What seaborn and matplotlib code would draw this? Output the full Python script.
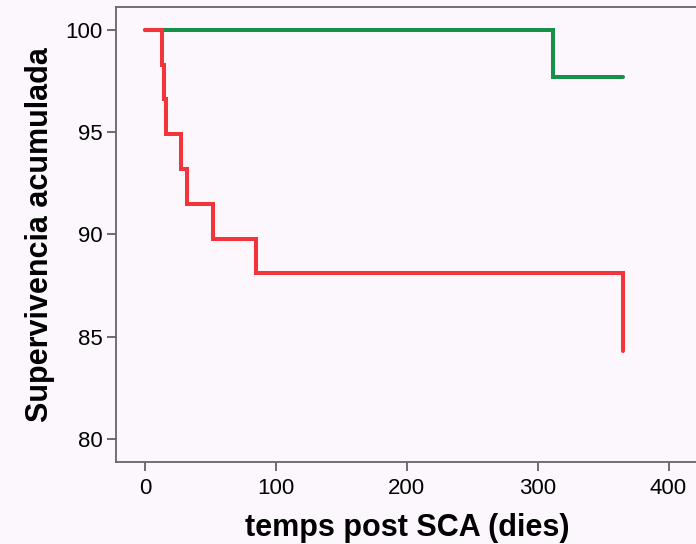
import matplotlib
matplotlib.use("Agg")
import matplotlib.pyplot as plt
import seaborn as sns
import pandas as pd

# Data (Kaplan-Meier steps)
red_days = [0, 12.6, 14.5, 16, 27.5, 32, 52, 85, 365]
red_surv = [100, 98.3, 96.6, 94.9, 93.2, 91.5, 89.8, 88.1, 84.3]
green_days = [0, 312, 365]
green_surv = [100, 97.7, 97.7]
x_ticks = [0, 100, 200, 300, 400]
y_ticks = [80, 85, 90, 95, 100]
x_label = "temps post SCA (dies)"
y_label = "Supervivencia acumulada"

bg = "#FBF7FC"
sns.set_theme(style="white")
plt.rcParams["font.family"] = ["Liberation Sans", "DejaVu Sans"]

fig = plt.figure(figsize=(6.96, 5.44), dpi=100, facecolor=bg)
ax = fig.add_axes([116/696, 82/544, 1 - 116/696, (462-7)/544])
ax.set_facecolor(bg)

green = pd.DataFrame({"t": green_days, "s": green_surv})
red = pd.DataFrame({"t": red_days, "s": red_surv})

sns.lineplot(data=green, x="t", y="s", ax=ax, estimator=None, sort=False,
             drawstyle="steps-post", color="#17914A", linewidth=2.9,
             solid_capstyle="round", solid_joinstyle="miter")
sns.lineplot(data=red, x="t", y="s", ax=ax, estimator=None, sort=False,
             drawstyle="steps-post", color="#F2343C", linewidth=2.9,
             solid_capstyle="round", solid_joinstyle="miter")

ax.set_xlim(-22.2, 421)
ax.set_ylim(78.88, 101.12)
ax.set_xticks(x_ticks)
ax.set_yticks(y_ticks)
ax.tick_params(axis="both", which="major", direction="out", length=6.5, width=1.2,
               color="#555555", labelsize=16, labelcolor="black",
               bottom=True, left=True)
ax.tick_params(axis="y", pad=3)
ax.tick_params(axis="x", pad=5)
for side in ["left", "bottom", "top"]:
    ax.spines[side].set_color("#666666")
    ax.spines[side].set_linewidth(1.3)
ax.spines["right"].set_visible(False)

ax.set_xlabel(x_label, fontsize=22, fontweight="bold", color="black")
ax.set_ylabel(y_label, fontsize=22, fontweight="bold", color="black")
ax.xaxis.set_label_coords((407 - 116) / 580, -(528 - 462) / 455)
ax.yaxis.set_label_coords(-(116 - 40) / 580, (462 - 235) / 455)
ax.yaxis.label.set_va("center")
ax.xaxis.label.set_va("center")

fig.savefig("out.png", dpi=100, facecolor=bg)
